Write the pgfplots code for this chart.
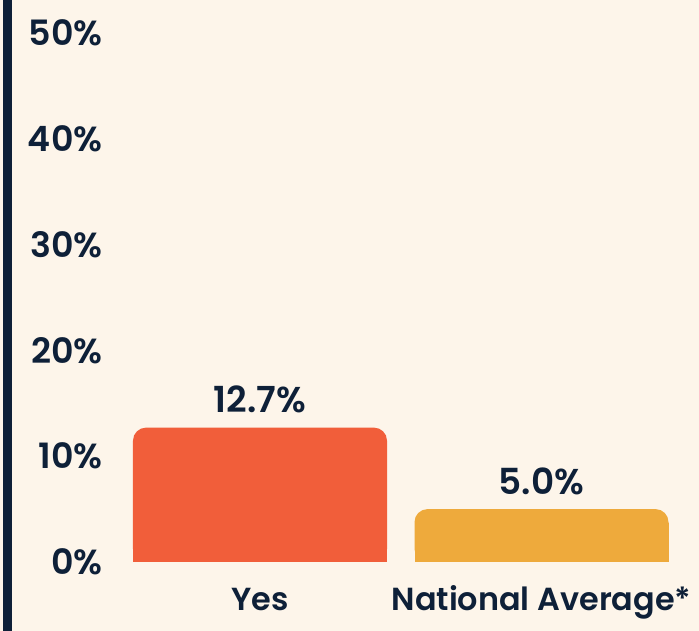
\documentclass[border=0pt]{standalone}
\usepackage{fontspec}
\setmainfont{Poppins}[BoldFont={Poppins SemiBold}]
\usepackage{pgfplots}
\pgfplotsset{compat=1.18}
\definecolor{bg}{HTML}{FDF5EA}
\definecolor{navy}{HTML}{0E2038}
\definecolor{barA}{HTML}{F15E3A}
\definecolor{barB}{HTML}{EEAA3C}
\begin{document}
\begin{tikzpicture}[x=1bp,y=1bp]
\fill[bg] (0,0) rectangle (699,631);
\fill[navy] (3,0) rectangle (12,631);
\useasboundingbox (0,0) rectangle (699,631);
\begin{axis}[
  at={(120bp,69bp)}, anchor=south west,
  scale only axis, width=560bp, height=529bp,
  xmin=-0.4973, xmax=1.4920, ymin=0, ymax=50,
  axis line style={draw=none},
  ytick={0,10,20,30,40,50},
  yticklabels={0\%,10\%,20\%,30\%,40\%,50\%},
  xtick={0,1},
  xticklabels={Yes,National Average*},
  major tick length=0pt,
  tick label style={text=navy, font=\fontsize{35}{38}\selectfont\bfseries},
  yticklabel style={anchor=east, xshift=-14bp},
  xticklabel style={anchor=base, yshift=-49bp, font=\fontsize{32}{35}\selectfont\bfseries},
  ybar, bar width=254bp, bar shift=0pt,
  clip=false,
  every node near coord/.append style={text=navy, anchor=base, yshift=15bp, font=\fontsize{36}{39}\selectfont\bfseries},
]
\addplot[fill=barA, draw=none, rounded corners=13bp,
  nodes near coords={\pgfmathprintnumber[fixed,fixed zerofill,precision=1,assume math mode=true]{\pgfplotspointmeta}\%}]
  coordinates {(0,12.7)};
\addplot[fill=barA, draw=none] coordinates {(0,11.4)};
\addplot[fill=barB, draw=none, rounded corners=13bp,
  nodes near coords={\pgfmathprintnumber[fixed,fixed zerofill,precision=1,assume math mode=true]{\pgfplotspointmeta}\%}]
  coordinates {(1,5.0)};
\addplot[fill=barB, draw=none] coordinates {(1,3.7)};
\end{axis}
\end{tikzpicture}
\end{document}
